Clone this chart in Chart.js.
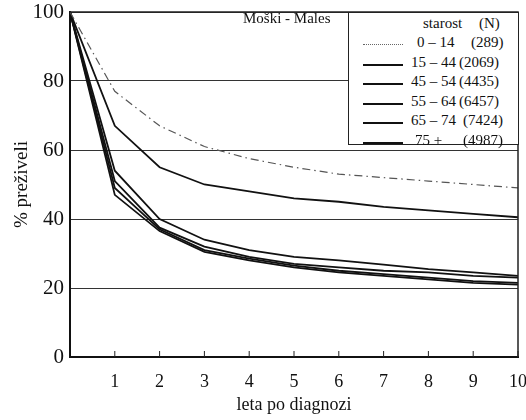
<!DOCTYPE html>
<html>
<head>
<meta charset="utf-8">
<script src="https://cdn.jsdelivr.net/npm/chart.js@4"></script>
<style>
    html, body { margin: 0; padding: 0; background: #fff; }
    #wrap { position: relative; width: 526px; height: 420px; }
    #chart { display: block; }
    .note {
        position: absolute; left: 243px; top: 10px;
        font: 15px 'Liberation Serif', serif; color: #111;
    }
    #legend {
        position: absolute; left: 348px; top: 12px; width: 171px; height: 133px;
        border: 1px solid #222; box-sizing: border-box; background: #fff;
        font: 15px 'Liberation Serif', serif; color: #111;
    }
    .lg-row { position: absolute; left: 0; width: 170px; height: 20px; line-height: 20px; white-space: nowrap; }
    .lg-line { position: absolute; left: 14px; width: 40px; top: 12px; border-top: 2px solid #111; }
    .lg-line.dot { border-top: 1px dotted #666; }
    .lg-row span { position: absolute; }
</style>
</head>
<body>
<div id="wrap">
    <canvas id="chart" width="526" height="420"></canvas>
    <div class="note">Moški - Males</div>
    <div id="legend"></div>
</div>
<script>
// ── Podatki ──────────────────────────────────────────────────
const years     = [0, 1, 2, 3, 4, 5, 6, 7, 8, 9, 10];
const ageGroups = ['0 – 14', '15 – 44', '45 – 54', '55 – 64', '65 – 74', '75 +'];
const counts    = ['(289)', '(2069)', '(4435)', '(6457)', '(7424)', '(4987)'];

const age0_14  = [100, 77, 67, 61, 57.5, 55, 53, 52, 51, 50, 49];
const age15_44 = [100, 67, 55, 50, 48, 46, 45, 43.5, 42.5, 41.5, 40.5];
const age45_54 = [100, 54, 40, 34, 31, 29, 28, 26.8, 25.5, 24.5, 23.5];
const age55_64 = [100, 51, 37.5, 32, 29, 27, 26, 25, 24.5, 23.5, 23];
const age65_74 = [100, 49, 37, 31, 28.5, 26.5, 25, 24, 23, 22, 21.5];
const age75    = [100, 47, 36.5, 30.5, 28, 26, 24.5, 23.5, 22.5, 21.5, 21];

const yTicks = [0, 20, 40, 60, 80, 100];
const xTicks = [1, 2, 3, 4, 5, 6, 7, 8, 9, 10];

const seriesList = [age0_14, age15_44, age45_54, age55_64, age65_74, age75];

// legenda: zamiki stolpcev (starost, N) po vrsticah
const ageLeft = [68, 62, 62, 62, 62, 66];
const nLeft   = [122, 110, 110, 110, 114, 114];

// ── Okvir in notranje oznake na osi x ────────────────────────
const framePlugin = {
    id: 'frame',
    afterDraw(chart) {
        const { ctx, chartArea: a, scales } = chart;
        ctx.save();
        ctx.strokeStyle = '#222';
        ctx.lineWidth = 1.5;
        ctx.beginPath();
        ctx.moveTo(a.left, a.top);
        ctx.lineTo(a.right, a.top);
        ctx.lineTo(a.right, a.bottom);
        ctx.stroke();
        ctx.lineWidth = 1;
        xTicks.forEach(v => {
            const x = scales.x.getPixelForValue(v);
            ctx.beginPath();
            ctx.moveTo(x, a.bottom);
            ctx.lineTo(x, a.bottom - 6);
            ctx.stroke();
        });
        ctx.restore();
    },
};

const serif = 'Liberation Serif';

new Chart(document.getElementById('chart'), {
    type: 'line',
    data: {
        datasets: seriesList.map((vals, i) => ({
            label: ageGroups[i],
            data: vals.map((v, j) => ({ x: years[j], y: v })),
            borderColor: i === 0 ? '#555' : '#111',
            borderWidth: i === 0 ? 1.2 : 1.8,
            borderDash: i === 0 ? [8, 4, 1.5, 4] : [],
            pointRadius: 0,
            tension: 0,
            fill: false,
        })),
    },
    options: {
        responsive: false,
        animation: false,
        layout: { padding: { top: 12, right: 8, left: 0, bottom: 0 } },
        plugins: {
            legend: { display: false },
            tooltip: { enabled: false },
        },
        scales: {
            x: {
                type: 'linear',
                min: 0,
                max: 10,
                afterBuildTicks: s => { s.ticks = xTicks.map(v => ({ value: v })); },
                afterFit: s => { s.height = 63; s.paddingRight = 0; s.paddingLeft = 0; },
                grid: { display: false, drawTicks: false },
                border: { display: true, color: '#111', width: 2 },
                ticks: {
                    padding: 14,
                    color: '#111',
                    font: { family: serif, size: 18 },
                    maxRotation: 0,
                },
                title: {
                    display: true,
                    text: 'leta po diagnozi',
                    color: '#111',
                    font: { family: serif, size: 18 },
                    padding: { top: 0, bottom: 4 },
                },
            },
            y: {
                min: 0,
                max: 100,
                afterBuildTicks: s => { s.ticks = yTicks.map(v => ({ value: v })); },
                afterFit: s => { s.width = 70; s.paddingTop = 0; s.paddingBottom = 0; },
                grid: { color: '#333', lineWidth: 1, drawTicks: false },
                border: { display: true, color: '#111', width: 2 },
                ticks: {
                    padding: 6,
                    color: '#111',
                    font: { family: serif, size: 21 },
                },
                title: {
                    display: true,
                    text: '% preživeli',
                    color: '#111',
                    font: { family: serif, size: 19 },
                    padding: { top: 11, bottom: 0 },
                },
            },
        },
    },
    plugins: [framePlugin],
});

// ── Legenda ──────────────────────────────────────────────────
function renderLegend() {
    const box = document.getElementById('legend');
    let html = `<div class="lg-row" style="top:0px;">
        <span style="left:74px;">starost</span>
        <span style="left:130px;">(N)</span></div>`;
    ageGroups.forEach((g, i) => {
        const top = 19 + i * 19.5;
        html += `<div class="lg-row" style="top:${top}px;">
            <div class="lg-line${i === 0 ? ' dot' : ''}"></div>
            <span style="left:${ageLeft[i]}px;">${g}</span>
            <span style="left:${nLeft[i]}px;">${counts[i]}</span>
        </div>`;
    });
    box.innerHTML = html;
}
renderLegend();
</script>
</body>
</html>
